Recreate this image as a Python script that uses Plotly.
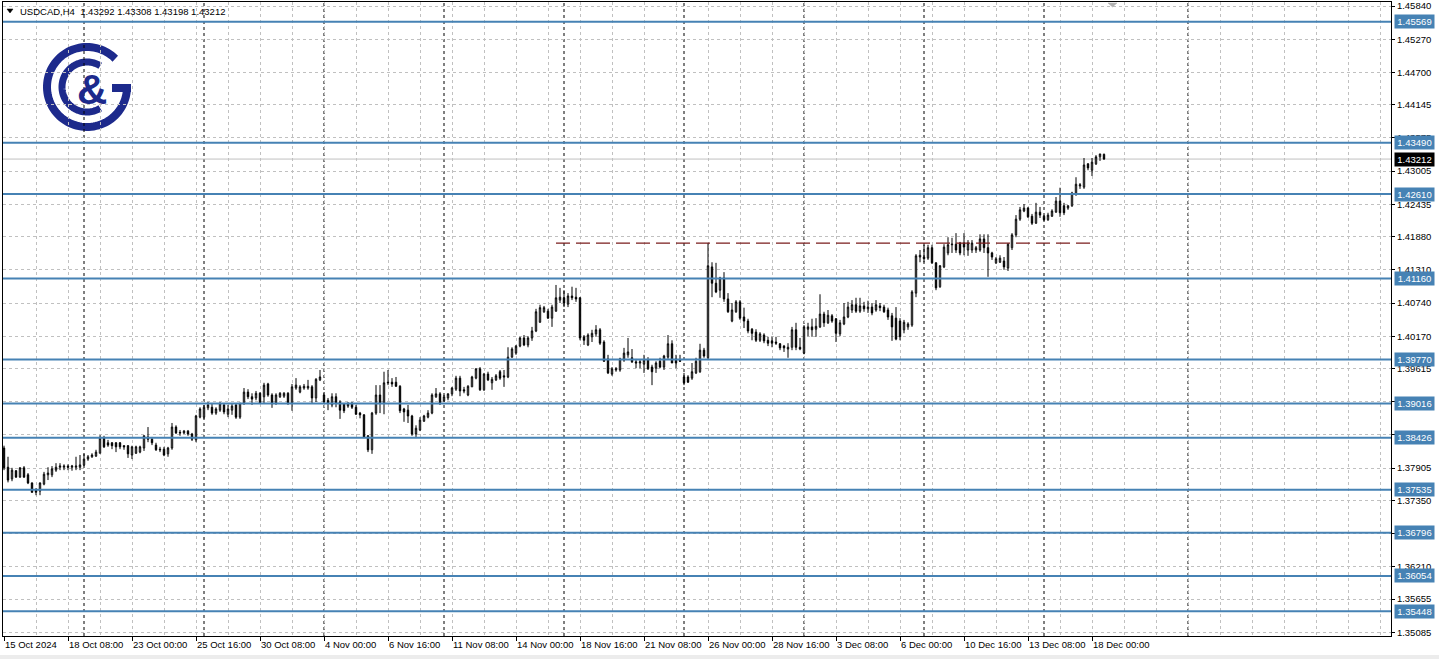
import math
import plotly.graph_objects as go

# ---------------- data (USDCAD, H4) ----------------
opens = [
    1.3825, 1.3792, 1.3772, 1.3786, 1.3775, 1.3791, 1.3779, 1.3765, 1.3753, 1.3751,
    1.3763, 1.3779, 1.3779, 1.3787, 1.3792, 1.3792, 1.3794, 1.3792, 1.3792, 1.3792,
    1.3796, 1.3806, 1.3810, 1.3811, 1.3816, 1.3842, 1.3834, 1.3834, 1.3834, 1.3834,
    1.3829, 1.3829, 1.3813, 1.3816, 1.3818, 1.3825, 1.3844, 1.3840, 1.3830, 1.3823,
    1.3823, 1.3815, 1.3825, 1.3861, 1.3852, 1.3851, 1.3854, 1.3849, 1.3839, 1.3878,
    1.3878, 1.3894, 1.3895, 1.3885, 1.3890, 1.3899, 1.3883, 1.3890, 1.3899, 1.3878,
    1.3902, 1.3921, 1.3913, 1.3911, 1.3919, 1.3913, 1.3935, 1.3916, 1.3902, 1.3913,
    1.3914, 1.3919, 1.3902, 1.3928, 1.3921, 1.3928, 1.3928, 1.3930, 1.3911, 1.3942,
    1.3916, 1.3907, 1.3899, 1.3913, 1.3904, 1.3901, 1.3897, 1.3902, 1.3895, 1.3885,
    1.3882, 1.3846, 1.3822, 1.3885, 1.3916, 1.3902, 1.3938, 1.3938, 1.3938, 1.3931,
    1.3892, 1.3890, 1.3880, 1.3849, 1.3856, 1.3871, 1.3878, 1.3885, 1.3913, 1.3918,
    1.3906, 1.3911, 1.3918, 1.3926, 1.3945, 1.3925, 1.3916, 1.3930, 1.3945, 1.3961,
    1.3925, 1.3952, 1.3937, 1.3942, 1.3956, 1.3949, 1.3947, 1.3981, 1.3988, 1.4000,
    1.4014, 1.4002, 1.4014, 1.4026, 1.4041, 1.4059, 1.4060, 1.4048, 1.4060, 1.4079,
    1.4083, 1.4072, 1.4086, 1.4084, 1.4083, 1.4016, 1.4002, 1.4016, 1.4021, 1.4028,
    1.4007, 1.3978, 1.3952, 1.3959, 1.3959, 1.3976, 1.3985, 1.3980, 1.3973, 1.3971,
    1.3969, 1.3976, 1.3964, 1.3962, 1.3974, 1.3964, 1.3981, 1.4004, 1.3978, 1.3976,
    1.3947, 1.3947, 1.3945, 1.3954, 1.3956, 1.3993, 1.3980, 1.4136, 1.4108, 1.4096,
    1.4117, 1.4081, 1.4043, 1.4059, 1.4076, 1.4050, 1.4043, 1.4029, 1.4024, 1.4010,
    1.4019, 1.4010, 1.4009, 1.4007, 1.4004, 1.4000, 1.3995, 1.3998, 1.4028, 1.3998,
    1.3988, 1.4029, 1.4033, 1.4029, 1.4033, 1.4055, 1.4040, 1.4052, 1.4047, 1.4021,
    1.4038, 1.4050, 1.4062, 1.4071, 1.4060, 1.4069, 1.4064, 1.4067, 1.4062, 1.4069,
    1.4067, 1.4062, 1.4052, 1.4048, 1.4043, 1.4028, 1.4033, 1.4036, 1.4091, 1.4153,
    1.4153, 1.4151, 1.4169, 1.4143, 1.4102, 1.4136, 1.4160, 1.4174, 1.4175, 1.4177,
    1.4177, 1.4165, 1.4165, 1.4165, 1.4165, 1.4184, 1.4169, 1.4160, 1.4143, 1.4144,
    1.4146, 1.4134, 1.4169, 1.4191, 1.4218, 1.4232, 1.4237, 1.4223, 1.4211, 1.4230,
    1.4223, 1.4217, 1.4223, 1.4230, 1.4249, 1.4241, 1.4237, 1.4241, 1.4261, 1.4275,
    1.4273, 1.4313, 1.4302, 1.4313, 1.4325, 1.43292,
]
highs = [
    1.3829, 1.3810, 1.3791, 1.3787, 1.3792, 1.3794, 1.3782, 1.3766, 1.3756, 1.3766,
    1.3784, 1.3792, 1.3794, 1.3799, 1.3799, 1.3797, 1.3797, 1.3796, 1.3810, 1.3813,
    1.3815, 1.3813, 1.3816, 1.3822, 1.3847, 1.3846, 1.3839, 1.3835, 1.3835, 1.3835,
    1.3830, 1.3830, 1.3829, 1.3829, 1.3829, 1.3847, 1.3861, 1.3844, 1.3834, 1.3827,
    1.3827, 1.3827, 1.3868, 1.3864, 1.3856, 1.3856, 1.3856, 1.3851, 1.3882, 1.3895,
    1.3899, 1.3904, 1.3902, 1.3895, 1.3904, 1.3902, 1.3899, 1.3901, 1.3901, 1.3902,
    1.3928, 1.3926, 1.3919, 1.3923, 1.3921, 1.3937, 1.3937, 1.3919, 1.3919, 1.3921,
    1.3921, 1.3921, 1.3935, 1.3945, 1.3933, 1.3935, 1.3942, 1.3933, 1.3945, 1.3959,
    1.3921, 1.3911, 1.3919, 1.3919, 1.3907, 1.3902, 1.3904, 1.3904, 1.3899, 1.3887,
    1.3883, 1.3847, 1.3887, 1.3933, 1.3933, 1.3956, 1.3959, 1.3945, 1.3947, 1.3933,
    1.3894, 1.3899, 1.3882, 1.3864, 1.3878, 1.3882, 1.3890, 1.3919, 1.3928, 1.3921,
    1.3916, 1.3919, 1.3930, 1.3949, 1.3949, 1.3930, 1.3933, 1.3949, 1.3962, 1.3964,
    1.3954, 1.3956, 1.3947, 1.3952, 1.3959, 1.3959, 1.3998, 1.3998, 1.4002, 1.4016,
    1.4019, 1.4017, 1.4033, 1.4064, 1.4071, 1.4069, 1.4064, 1.4071, 1.4105, 1.4100,
    1.4096, 1.4091, 1.4102, 1.4100, 1.4084, 1.4019, 1.4022, 1.4028, 1.4036, 1.4031,
    1.4010, 1.3985, 1.3964, 1.3964, 1.3980, 1.3997, 1.4014, 1.3995, 1.3978, 1.3976,
    1.3985, 1.3981, 1.3968, 1.3974, 1.3980, 1.3985, 1.4019, 1.4010, 1.3985, 1.3985,
    1.3954, 1.3950, 1.3971, 1.3980, 1.4004, 1.3997, 1.4177, 1.4144, 1.4143, 1.4119,
    1.4127, 1.4091, 1.4074, 1.4079, 1.4079, 1.4066, 1.4047, 1.4031, 1.4029, 1.4024,
    1.4022, 1.4016, 1.4016, 1.4016, 1.4005, 1.4002, 1.4005, 1.4033, 1.4040, 1.4014,
    1.4036, 1.4040, 1.4047, 1.4048, 1.4089, 1.4059, 1.4062, 1.4055, 1.4048, 1.4045,
    1.4074, 1.4076, 1.4079, 1.4083, 1.4083, 1.4076, 1.4078, 1.4074, 1.4079, 1.4074,
    1.4071, 1.4066, 1.4057, 1.4067, 1.4048, 1.4045, 1.4041, 1.4096, 1.4158, 1.4165,
    1.4174, 1.4174, 1.4174, 1.4144, 1.4139, 1.4175, 1.4187, 1.4186, 1.4194, 1.4179,
    1.4194, 1.4182, 1.4182, 1.4172, 1.4192, 1.4192, 1.4192, 1.4162, 1.4153, 1.4156,
    1.4153, 1.4177, 1.4194, 1.4225, 1.4239, 1.4244, 1.4239, 1.4227, 1.4246, 1.4239,
    1.4225, 1.4229, 1.4235, 1.4256, 1.4272, 1.4246, 1.4242, 1.4265, 1.4290, 1.4280,
    1.4323, 1.4314, 1.4323, 1.4328, 1.4330, 1.43308,
]
lows = [
    1.3787, 1.3766, 1.3768, 1.3774, 1.3774, 1.3774, 1.3763, 1.3748, 1.3744, 1.3744,
    1.3761, 1.3770, 1.3775, 1.3784, 1.3787, 1.3787, 1.3787, 1.3786, 1.3787, 1.3787,
    1.3794, 1.3803, 1.3808, 1.3810, 1.3816, 1.3825, 1.3827, 1.3823, 1.3818, 1.3823,
    1.3822, 1.3808, 1.3806, 1.3815, 1.3816, 1.3820, 1.3835, 1.3830, 1.3820, 1.3818,
    1.3811, 1.3810, 1.3822, 1.3849, 1.3846, 1.3849, 1.3846, 1.3837, 1.3835, 1.3876,
    1.3875, 1.3890, 1.3882, 1.3882, 1.3887, 1.3883, 1.3878, 1.3882, 1.3875, 1.3875,
    1.3899, 1.3909, 1.3899, 1.3907, 1.3901, 1.3902, 1.3913, 1.3894, 1.3899, 1.3911,
    1.3911, 1.3899, 1.3889, 1.3925, 1.3919, 1.3925, 1.3925, 1.3902, 1.3904, 1.3940,
    1.3902, 1.3890, 1.3895, 1.3895, 1.3875, 1.3885, 1.3894, 1.3892, 1.3882, 1.3876,
    1.3842, 1.3818, 1.3815, 1.3882, 1.3885, 1.3883, 1.3933, 1.3930, 1.3930, 1.3885,
    1.3870, 1.3868, 1.3846, 1.3842, 1.3854, 1.3870, 1.3876, 1.3883, 1.3911, 1.3899,
    1.3904, 1.3907, 1.3914, 1.3923, 1.3914, 1.3919, 1.3914, 1.3930, 1.3943, 1.3923,
    1.3923, 1.3940, 1.3925, 1.3940, 1.3942, 1.3930, 1.3945, 1.3980, 1.3985, 1.3998,
    1.4000, 1.3998, 1.4009, 1.4024, 1.4040, 1.4057, 1.4047, 1.4033, 1.4059, 1.4074,
    1.4067, 1.4067, 1.4079, 1.4076, 1.4010, 1.4002, 1.4000, 1.4007, 1.4016, 1.4002,
    1.3973, 1.3952, 1.3949, 1.3956, 1.3956, 1.3973, 1.3980, 1.3971, 1.3962, 1.3962,
    1.3954, 1.3959, 1.3933, 1.3954, 1.3962, 1.3959, 1.3978, 1.3971, 1.3962, 1.3973,
    1.3933, 1.3937, 1.3942, 1.3952, 1.3954, 1.3980, 1.3976, 1.4084, 1.4091, 1.4083,
    1.4076, 1.4057, 1.4041, 1.4057, 1.4045, 1.4031, 1.4022, 1.4010, 1.4007, 1.4007,
    1.4005, 1.4000, 1.3998, 1.4002, 1.3993, 1.3990, 1.3980, 1.3993, 1.3993, 1.3993,
    1.3986, 1.4017, 1.4016, 1.4016, 1.4031, 1.4033, 1.4038, 1.4040, 1.4007, 1.4017,
    1.4036, 1.4048, 1.4057, 1.4057, 1.4057, 1.4059, 1.4057, 1.4053, 1.4059, 1.4060,
    1.4057, 1.4045, 1.4009, 1.4010, 1.4010, 1.4022, 1.4028, 1.4033, 1.4084, 1.4144,
    1.4144, 1.4148, 1.4141, 1.4096, 1.4100, 1.4134, 1.4156, 1.4160, 1.4160, 1.4156,
    1.4156, 1.4155, 1.4160, 1.4160, 1.4162, 1.4160, 1.4119, 1.4148, 1.4141, 1.4143,
    1.4131, 1.4129, 1.4165, 1.4187, 1.4215, 1.4230, 1.4220, 1.4208, 1.4210, 1.4220,
    1.4215, 1.4215, 1.4222, 1.4229, 1.4222, 1.4225, 1.4234, 1.4239, 1.4258, 1.4270,
    1.4270, 1.4302, 1.4292, 1.4311, 1.4318, 1.43198,
]
closes = [
    1.3791, 1.3770, 1.3787, 1.3775, 1.3791, 1.3775, 1.3765, 1.3749, 1.3749, 1.3765,
    1.3780, 1.3782, 1.3789, 1.3792, 1.3794, 1.3794, 1.3792, 1.3794, 1.3794, 1.3796,
    1.3806, 1.3810, 1.3813, 1.3818, 1.3842, 1.3827, 1.3830, 1.3829, 1.3827, 1.3827,
    1.3827, 1.3815, 1.3827, 1.3827, 1.3827, 1.3846, 1.3840, 1.3834, 1.3822, 1.3822,
    1.3813, 1.3825, 1.3861, 1.3851, 1.3851, 1.3854, 1.3849, 1.3840, 1.3880, 1.3892,
    1.3895, 1.3899, 1.3885, 1.3892, 1.3901, 1.3887, 1.3892, 1.3897, 1.3878, 1.3902,
    1.3921, 1.3913, 1.3909, 1.3919, 1.3902, 1.3933, 1.3916, 1.3901, 1.3916, 1.3919,
    1.3919, 1.3902, 1.3930, 1.3933, 1.3930, 1.3931, 1.3931, 1.3911, 1.3943, 1.3947,
    1.3904, 1.3902, 1.3913, 1.3902, 1.3890, 1.3889, 1.3901, 1.3895, 1.3883, 1.3882,
    1.3844, 1.3822, 1.3885, 1.3916, 1.3902, 1.3937, 1.3937, 1.3935, 1.3931, 1.3889,
    1.3887, 1.3880, 1.3849, 1.3859, 1.3873, 1.3880, 1.3885, 1.3916, 1.3918, 1.3901,
    1.3913, 1.3918, 1.3928, 1.3945, 1.3923, 1.3923, 1.3931, 1.3947, 1.3961, 1.3925,
    1.3952, 1.3942, 1.3943, 1.3949, 1.3945, 1.3947, 1.3981, 1.3995, 1.4000, 1.4014,
    1.4002, 1.4014, 1.4026, 1.4059, 1.4066, 1.4066, 1.4048, 1.4067, 1.4083, 1.4084,
    1.4074, 1.4086, 1.4083, 1.4081, 1.4014, 1.4010, 1.4019, 1.4022, 1.4028, 1.4005,
    1.3974, 1.3954, 1.3961, 1.3961, 1.3978, 1.3988, 1.3990, 1.3973, 1.3971, 1.3973,
    1.3976, 1.3961, 1.3956, 1.3971, 1.3964, 1.3983, 1.4004, 1.3971, 1.3971, 1.3974,
    1.3937, 1.3938, 1.3956, 1.3974, 1.3993, 1.3983, 1.4138, 1.4108, 1.4093, 1.4117,
    1.4081, 1.4059, 1.4062, 1.4076, 1.4048, 1.4043, 1.4026, 1.4022, 1.4010, 1.4021,
    1.4009, 1.4005, 1.4005, 1.4005, 1.3997, 1.3997, 1.3998, 1.4028, 1.3998, 1.3995,
    1.4033, 1.4033, 1.4028, 1.4034, 1.4055, 1.4040, 1.4053, 1.4043, 1.4022, 1.4040,
    1.4050, 1.4067, 1.4071, 1.4060, 1.4069, 1.4064, 1.4067, 1.4057, 1.4071, 1.4066,
    1.4059, 1.4050, 1.4033, 1.4012, 1.4016, 1.4041, 1.4038, 1.4093, 1.4155, 1.4156,
    1.4150, 1.4169, 1.4143, 1.4100, 1.4138, 1.4170, 1.4174, 1.4175, 1.4165, 1.4160,
    1.4170, 1.4177, 1.4177, 1.4169, 1.4184, 1.4169, 1.4160, 1.4153, 1.4150, 1.4151,
    1.4136, 1.4175, 1.4191, 1.4218, 1.4234, 1.4237, 1.4222, 1.4211, 1.4230, 1.4225,
    1.4217, 1.4225, 1.4232, 1.4249, 1.4229, 1.4229, 1.4241, 1.4263, 1.4278, 1.4277,
    1.4311, 1.4306, 1.4316, 1.4325, 1.4330, 1.43212,
]

# time-axis labels (bar index -> label)
label_idx = [0, 16, 32, 48, 64, 80, 96, 112, 128, 144, 160, 176, 192, 208, 224, 240, 256, 272]
time_labels = ["15 Oct 2024", "18 Oct 08:00", "23 Oct 00:00", "25 Oct 16:00", "30 Oct 08:00",
               "4 Nov 00:00", "6 Nov 16:00", "11 Nov 08:00", "14 Nov 00:00", "18 Nov 16:00",
               "21 Nov 08:00", "26 Nov 00:00", "28 Nov 16:00", "3 Dec 08:00", "6 Dec 00:00",
               "10 Dec 16:00", "13 Dec 08:00", "18 Dec 00:00"]
week_start_idx = [20, 50, 80, 110, 140, 170, 200, 230, 260, 296]

# price axis ticks
price_ticks = [1.45840, 1.45270, 1.44700, 1.44145, 1.43575, 1.43005, 1.42435, 1.41880, 1.41310,
               1.40740, 1.40170, 1.39615, 1.39045, 1.38475, 1.37905, 1.37350, 1.36780, 1.36210,
               1.35655, 1.35085]
hidden_ticks = [1.39045, 1.38475, 1.36780]

# horizontal levels, current price, resistance
levels = [1.45569, 1.43490, 1.42610, 1.41160, 1.39770, 1.39016, 1.38426, 1.37535, 1.36796,
          1.36054, 1.35448]
bid_price = 1.43212
resistance_level = 1.4177
resistance_span = [138, 272]

symbol_text = "USDCAD,H4  1.43292 1.43308 1.43198 1.43212"

# ---------------- layout geometry / styles ----------------
W, H = 1439, 659
ML, MR, MT, MB = 3, 48, 2, 23
PW, PH = W - ML - MR, H - MT - MB
FONT = "Liberation Sans"
BLUE = "#4682b4"
LOGO = "#1d2a8c"
GRID = "#c0c0c0"


def P(px, py):
    return (px - ML) / PW, 1 - (py - MT) / PH


def arc(cx, cy, r, a0, a1, steps=90):
    pts = []
    for k in range(steps + 1):
        a = math.radians(a0 + (a1 - a0) * k / steps)
        pts.append(P(cx + r * math.cos(a), cy - r * math.sin(a)))
    return "M " + " L ".join(f"{x:.6f},{y:.6f}" for x, y in pts)


n = len(opens)
x_idx = list(range(n))

fig = go.Figure()
fig.add_trace(go.Candlestick(
    x=x_idx, open=opens, high=highs, low=lows, close=closes,
    increasing=dict(line=dict(color="black", width=1), fillcolor="white"),
    decreasing=dict(line=dict(color="black", width=1), fillcolor="black"),
    whiskerwidth=0, hoverinfo="skip", showlegend=False,
))
fig.add_trace(go.Scatter(
    x=resistance_span, y=[resistance_level, resistance_level], mode="lines",
    line=dict(color="#7a1c1c", width=1.2, dash="14px,6px"),
    hoverinfo="skip", showlegend=False,
))

shapes = []
# logo
shapes.append(dict(type="path", path=arc(87, 87, 40, 45, 360), xref="paper", yref="paper",
                   line=dict(color=LOGO, width=8), layer="below"))
x0, y0 = P(112, 88)
x1, y1 = P(131, 88)
shapes.append(dict(type="line", x0=x0, y0=y0, x1=x1, y1=y1, xref="paper", yref="paper",
                   line=dict(color=LOGO, width=8), layer="below"))
shapes.append(dict(type="path", path=arc(87, 87, 25, 58, 302), xref="paper", yref="paper",
                   line=dict(color=LOGO, width=7), layer="below"))
# week separators
for wi in week_start_idx:
    shapes.append(dict(type="line", x0=wi, x1=wi, y0=0, y1=1, xref="x", yref="paper",
                       line=dict(color="black", width=1, dash="3px,3px"), layer="below"))
# bid line
shapes.append(dict(type="line", x0=0, x1=1, y0=bid_price, y1=bid_price, xref="paper", yref="y",
                   line=dict(color="#c0c0c0", width=1), layer="below"))
# levels
for lv in levels:
    shapes.append(dict(type="line", x0=0, x1=1, y0=lv, y1=lv, xref="paper", yref="y",
                       line=dict(color=BLUE, width=2), layer="above"))
# header triangle
t1, t2, t3 = P(7, 9), P(13, 9), P(10, 13)
shapes.append(dict(type="path", xref="paper", yref="paper",
                   path=f"M {t1[0]},{t1[1]} L {t2[0]},{t2[1]} L {t3[0]},{t3[1]} Z",
                   fillcolor="black", line=dict(color="black", width=0.5)))
# chart-shift marker
s1, s2, s3 = P(1108, 3), P(1117, 3), P(1112.5, 7)
shapes.append(dict(type="path", xref="paper", yref="paper",
                   path=f"M {s1[0]},{s1[1]} L {s2[0]},{s2[1]} L {s3[0]},{s3[1]} Z",
                   fillcolor="#b0b0b0", line=dict(color="#b0b0b0", width=0.5)))
# bottom strip
b1, b2 = P(0, 655), P(W, H)
shapes.append(dict(type="rect", xref="paper", yref="paper", x0=b1[0], y0=b1[1], x1=b2[0], y1=b2[1],
                   fillcolor="#ececec", line=dict(width=0)))

annotations = []
ax, ay = P(92, 89)
annotations.append(dict(x=ax, y=ay, xref="paper", yref="paper", text="<b>&</b>", showarrow=False,
                        font=dict(family=FONT, size=42, color=LOGO), xanchor="center", yanchor="middle"))
hx, hy = P(18, 11)
annotations.append(dict(x=hx, y=hy, xref="paper", yref="paper", text=symbol_text, showarrow=False,
                        font=dict(family=FONT, size=9.5, color="black"), xanchor="left", yanchor="middle"))
for lv in levels:
    annotations.append(dict(x=1, y=lv, xref="paper", yref="y", xanchor="left", yanchor="middle",
                            xshift=3, text=f"{lv:.5f}", showarrow=False, bgcolor=BLUE, borderpad=1,
                            width=37, font=dict(family=FONT, size=9.5, color="white")))
annotations.append(dict(x=1, y=bid_price, xref="paper", yref="y", xanchor="left", yanchor="middle",
                        xshift=3, text=f"{bid_price:.5f}", showarrow=False, bgcolor="black", borderpad=1,
                        width=37, font=dict(family=FONT, size=9.5, color="white")))

x_lo = -0.25
x_hi = x_lo + PW / 4.0
y_lo, y_hi = 1.35022, 1.45909

fig.update_layout(
    width=W, height=H,
    margin=dict(l=ML, r=MR, t=MT, b=MB, pad=0),
    paper_bgcolor="white", plot_bgcolor="white",
    showlegend=False, hovermode=False, boxgap=0.5,
    shapes=shapes, annotations=annotations,
    xaxis=dict(
        range=[x_lo, x_hi], tickmode="array", tickvals=label_idx, ticktext=time_labels,
        ticklabelposition="outside right", tickangle=0, ticks="outside", ticklen=4, tickcolor="black",
        showgrid=True, gridcolor=GRID, griddash="3px,3px", gridwidth=1,
        minor=dict(tickmode="linear", tick0=0, dtick=8, showgrid=True, gridcolor=GRID,
                   griddash="3px,3px", gridwidth=1, ticks=""),
        showline=True, linecolor="black", linewidth=1, mirror=True, zeroline=False,
        rangeslider=dict(visible=False), automargin=False,
        tickfont=dict(family=FONT, size=9.5, color="black"),
    ),
    yaxis=dict(
        side="right", range=[y_lo, y_hi], tickmode="array", tickvals=price_ticks,
        ticktext=["" if v in hidden_ticks else f"{v:.5f}" for v in price_ticks],
        ticks="outside", ticklen=3, tickcolor="black",
        showgrid=True, gridcolor=GRID, griddash="3px,3px", gridwidth=1,
        showline=True, linecolor="black", linewidth=1, mirror=True, zeroline=False,
        automargin=False, tickfont=dict(family=FONT, size=9.5, color="black"),
    ),
)

fig.write_html("out.html", config={"displayModeBar": False},
               post_script="document.body.style.margin='0';")
